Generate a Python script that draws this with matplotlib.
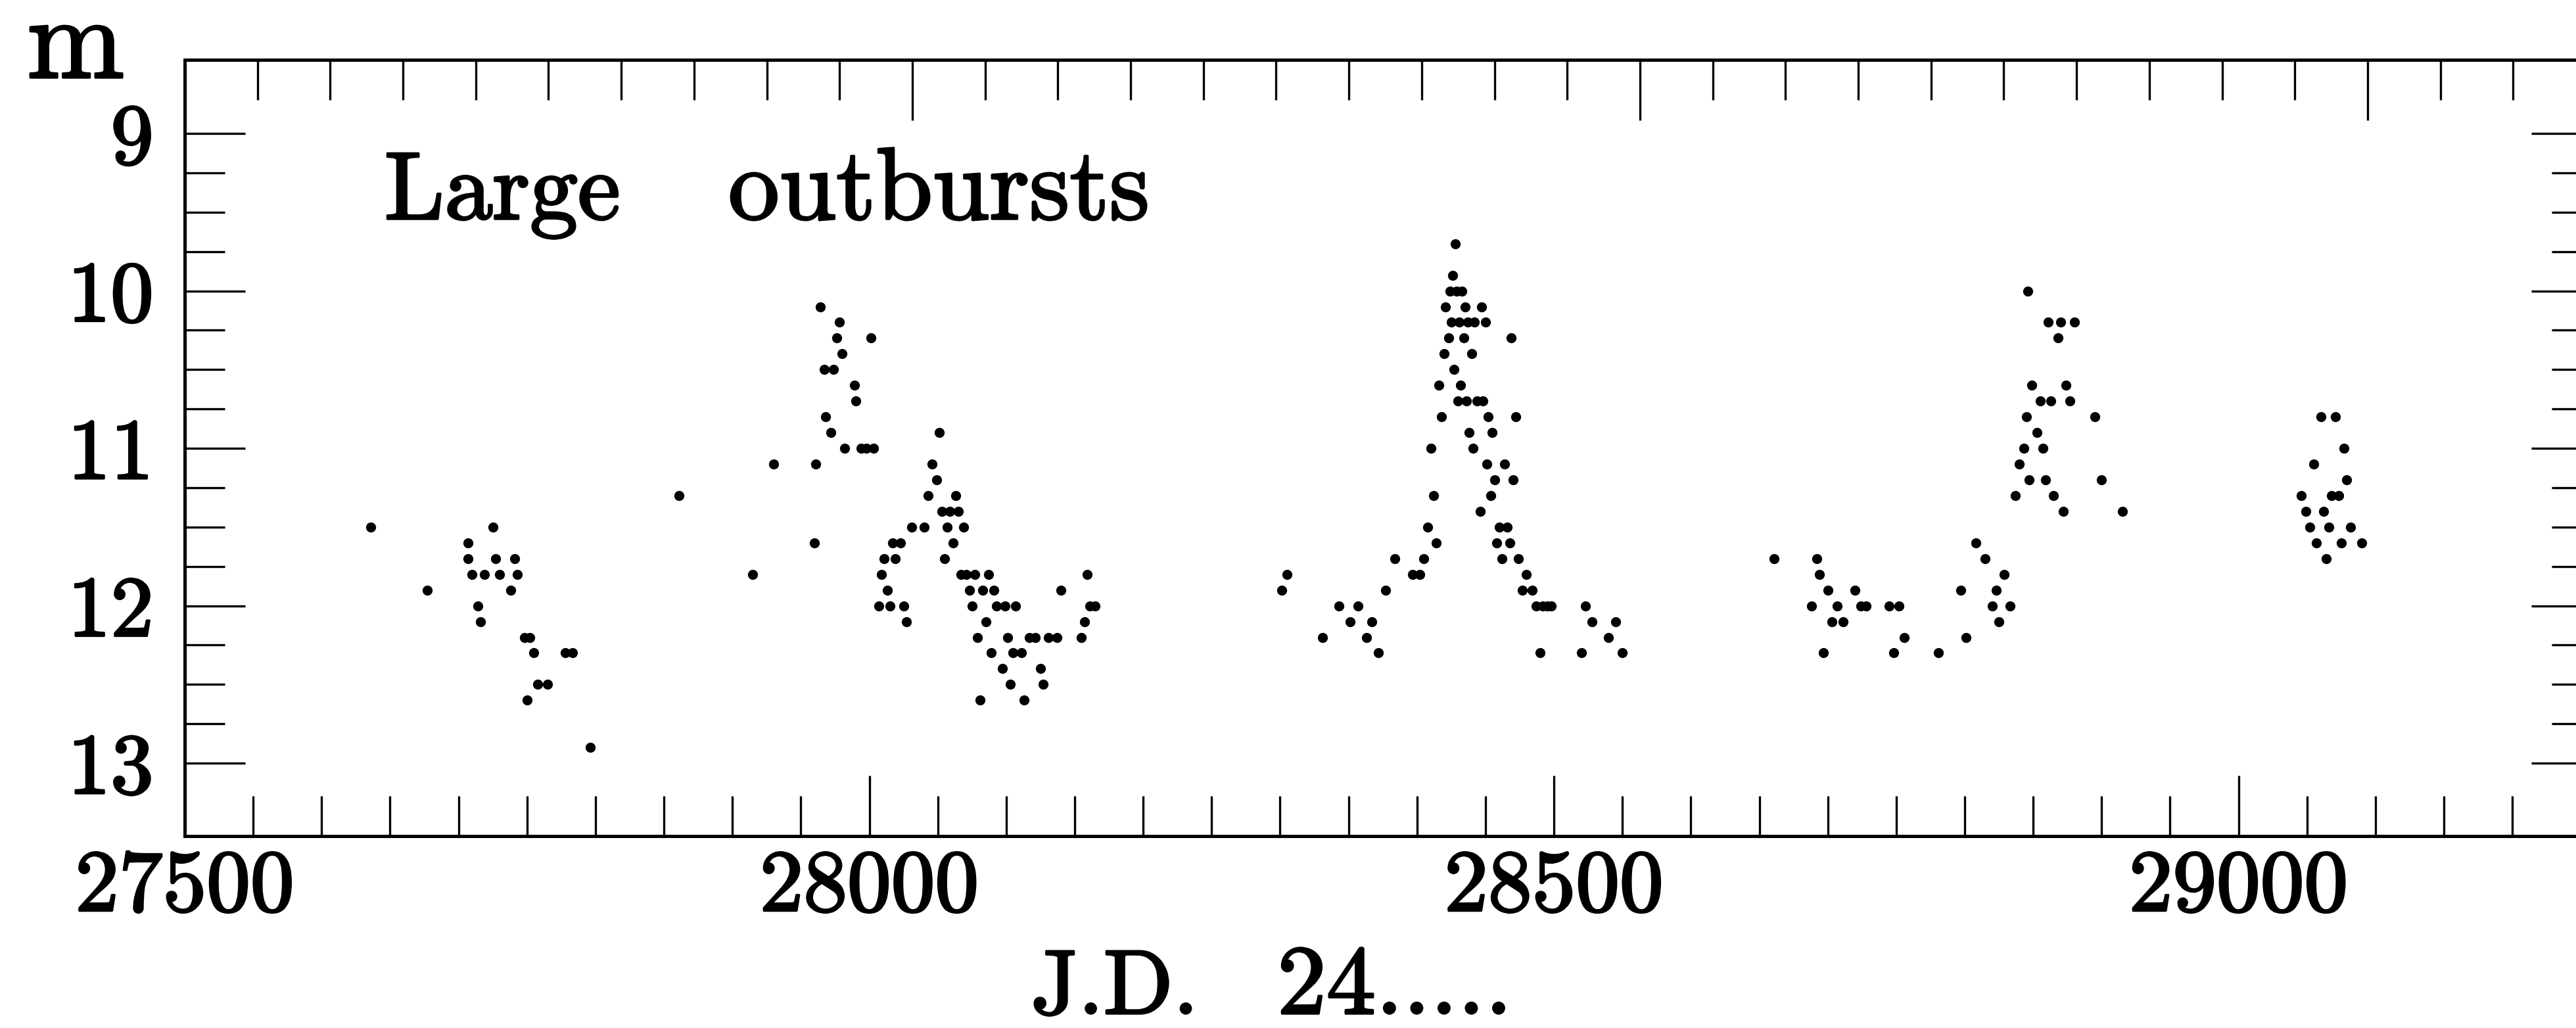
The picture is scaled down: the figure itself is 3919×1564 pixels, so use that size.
import matplotlib
matplotlib.use("Agg")
import matplotlib.pyplot as plt
import matplotlib.patheffects as pe
from matplotlib.ticker import MultipleLocator, FixedLocator, NullFormatter

# visual estimates, J.D. - 2400000 and magnitude
jd_a = [27636, 27677, 27707, 27707, 27710, 27714, 27716, 27719, 27725, 27727, 27730,
        27738, 27741, 27743, 27748, 27750, 27752, 27755, 27758, 27765, 27778, 27783, 27796]
mag_a = [11.5, 11.9, 11.6, 11.7, 11.8, 12.0, 12.1, 11.8, 11.5, 11.7, 11.8,
         11.9, 11.7, 11.8, 12.2, 12.6, 12.2, 12.3, 12.5, 12.5, 12.3, 12.3, 12.9]

jd_b = [27861, 27915, 27930, 27960, 27961, 27964, 27967, 27968, 27972, 27974, 27976,
        27978, 27980, 27982, 27989, 27990, 27994, 27998, 28001, 28003, 28007, 28009,
        28011, 28013, 28015, 28017, 28019, 28023, 28025, 28027, 28031, 28040, 28043,
        28046, 28049, 28051, 28053, 28055, 28057, 28059, 28061, 28063, 28065, 28067,
        28069, 28071, 28073, 28075, 28077, 28079, 28081, 28083, 28085, 28087, 28089,
        28091, 28093, 28097, 28099, 28101, 28103, 28105, 28107, 28111, 28113, 28117,
        28121, 28125, 28127, 28131, 28137, 28140, 28155, 28157, 28159, 28161, 28165]
mag_b = [11.3, 11.8, 11.1, 11.6, 11.1, 10.1, 10.5, 10.8, 10.9, 10.5, 10.3,
         10.2, 10.4, 11.0, 10.6, 10.7, 11.0, 11.0, 10.3, 11.0, 12.0, 11.8,
         11.7, 11.9, 12.0, 11.6, 11.7, 11.6, 12.0, 12.1, 11.5, 11.5, 11.3,
         11.1, 11.2, 10.9, 11.4, 11.7, 11.5, 11.4, 11.6, 11.3, 11.4, 11.8,
         11.5, 11.8, 11.9, 12.0, 11.8, 12.2, 12.6, 11.9, 12.1, 11.8, 12.3,
         11.9, 12.0, 12.4, 12.0, 12.2, 12.5, 12.3, 12.0, 12.3, 12.6, 12.2,
         12.2, 12.4, 12.5, 12.2, 12.2, 11.9, 12.2, 12.1, 11.8, 12.0, 12.0]

jd_c = [28301, 28305, 28331, 28343, 28351, 28357, 28363, 28367, 28372, 28377, 28384,
        28397, 28402, 28405, 28408, 28410, 28412, 28414, 28416, 28418, 28420, 28421,
        28423, 28424, 28425, 28426, 28427, 28428, 28429, 28430, 28431, 28432, 28433,
        28434, 28435, 28436, 28437, 28438, 28440, 28441, 28442, 28444, 28446, 28447,
        28448, 28450, 28451, 28452, 28454, 28455, 28457, 28458, 28460, 28462, 28464,
        28466, 28468, 28469, 28470, 28472, 28474, 28477, 28480, 28484, 28487, 28490,
        28492, 28495, 28498, 28520, 28523, 28528, 28540, 28545, 28550]
mag_c = [11.9, 11.8, 12.2, 12.0, 12.1, 12.0, 12.2, 12.1, 12.3, 11.9, 11.7,
         11.8, 11.8, 11.7, 11.5, 11.0, 11.3, 11.6, 10.6, 10.8, 10.4, 10.1,
         10.3, 10.0, 10.2, 9.9, 10.5, 9.7, 10.0, 10.7, 10.2, 10.6, 10.0,
         10.3, 10.1, 10.7, 10.2, 10.9, 10.4, 11.0, 10.2, 10.7, 11.4, 10.1,
         10.7, 10.2, 11.1, 10.8, 11.3, 10.9, 11.2, 11.6, 11.5, 11.7, 11.1,
         11.5, 11.6, 10.3, 11.2, 10.8, 11.7, 11.9, 11.8, 11.9, 12.0, 12.3,
         12.0, 12.0, 12.0, 12.3, 12.0, 12.1, 12.2, 12.1, 12.3]

jd_d = [28661, 28688, 28692, 28694, 28697, 28700, 28703, 28707, 28711, 28720, 28724,
        28728, 28745, 28748, 28752, 28756, 28781, 28797, 28801, 28808, 28815, 28820,
        28823, 28825, 28829, 28833, 28837, 28840, 28843, 28845, 28847, 28849, 28846,
        28853, 28855, 28857, 28859, 28861, 28863, 28865, 28868, 28870, 28872, 28874,
        28877, 28880, 28895, 28900, 28915]
mag_d = [11.7, 12.0, 11.7, 11.8, 12.3, 11.9, 12.1, 12.0, 12.1, 11.9, 12.0,
         12.0, 12.0, 12.3, 12.0, 12.2, 12.3, 11.9, 12.2, 11.6, 11.7, 12.0,
         11.9, 12.1, 11.8, 12.0, 11.3, 11.1, 11.0, 10.8, 11.2, 10.6, 10.0,
         10.9, 10.7, 11.0, 11.2, 10.2, 10.7, 11.3, 10.3, 10.2, 11.4, 10.6,
         10.7, 10.2, 10.8, 11.2, 11.4]

jd_e = [29046, 29049, 29052, 29055, 29057, 29060, 29062, 29064, 29066, 29068, 29071,
        29073, 29075, 29077, 29079, 29082, 29090]
mag_e = [11.3, 11.4, 11.5, 11.1, 11.6, 10.8, 11.4, 11.7, 11.5, 11.3, 10.8,
         11.3, 11.6, 11.0, 11.2, 11.5, 11.6]

plt.rcParams['font.family'] = ['cmr10', 'DejaVu Serif']
plt.rcParams['axes.formatter.use_mathtext'] = True

# thicken the thin roman strokes a little
heavy = [pe.withStroke(linewidth=2.5, foreground='black')]

fig = plt.figure(figsize=(39.19, 15.64), dpi=100)
ax = fig.add_axes([281 / 3919, 292 / 1564, 3662 / 3919, 1181 / 1564])

for jd, mag in [(jd_a, mag_a), (jd_b, mag_b), (jd_c, mag_c), (jd_d, mag_d), (jd_e, mag_e)]:
    ax.plot(jd, mag, 'o', color='black', markersize=11, markeredgewidth=0)

ax.set_xlim(27500, 29258)
ax.set_ylim(13.463, 8.532)

ax.xaxis.set_major_locator(FixedLocator([27500, 28000, 28500, 29000]))
ax.xaxis.set_minor_locator(MultipleLocator(50))
ax.yaxis.set_major_locator(FixedLocator([9, 10, 11, 12, 13]))
ax.yaxis.set_minor_locator(FixedLocator([9 + 0.25 * i for i in range(1, 16) if i % 4]))
ax.xaxis.set_major_formatter(plt.FuncFormatter(lambda v, p: f"{v:.0f}"))
ax.yaxis.set_major_formatter(plt.FuncFormatter(lambda v, p: f"{v:.0f}"))

ax.tick_params(which='both', direction='in', top=False, right=True, width=2.4, color='black')
ax.tick_params(which='major', length=66)
ax.tick_params(which='minor', length=44)
ax.tick_params(axis='x', labelsize=96, pad=15)
ax.tick_params(axis='y', labelsize=94, pad=34)
for lbl in ax.get_xticklabels() + ax.get_yticklabels():
    lbl.set_path_effects(heavy)
for sp in ax.spines.values():
    sp.set_linewidth(3.6)

# top axis has its own tick spacing
top = ax.twiny()
top.set_xlim(0, 3662 / 110.7)
top.xaxis.set_major_locator(MultipleLocator(10))
top.xaxis.set_minor_locator(MultipleLocator(1))
top.xaxis.set_major_formatter(NullFormatter())
top.tick_params(which='both', direction='in', width=2.4, color='black')
top.tick_params(which='major', length=66)
top.tick_params(which='minor', length=44)
for sp in top.spines.values():
    sp.set_linewidth(3.6)

fig.text(41 / 3919, 1 - 118 / 1564, "m", fontsize=128, va='baseline', ha='left',
         path_effects=heavy)
fig.text(585 / 3919, 1 - 333 / 1564, "Large", fontsize=105, va='baseline', ha='left',
         path_effects=heavy)
fig.text(1108 / 3919, 1 - 333 / 1564, "outbursts", fontsize=112, va='baseline', ha='left',
         path_effects=heavy)
fig.text(1569 / 3919, 1 - 1542 / 1564, "J.D.", fontsize=100, va='baseline', ha='left',
         path_effects=heavy)
fig.text(1943 / 3919, 1 - 1542 / 1564, "24.....", fontsize=108, va='baseline', ha='left',
         path_effects=heavy)

fig.savefig("out.png", dpi=100, facecolor='white')
